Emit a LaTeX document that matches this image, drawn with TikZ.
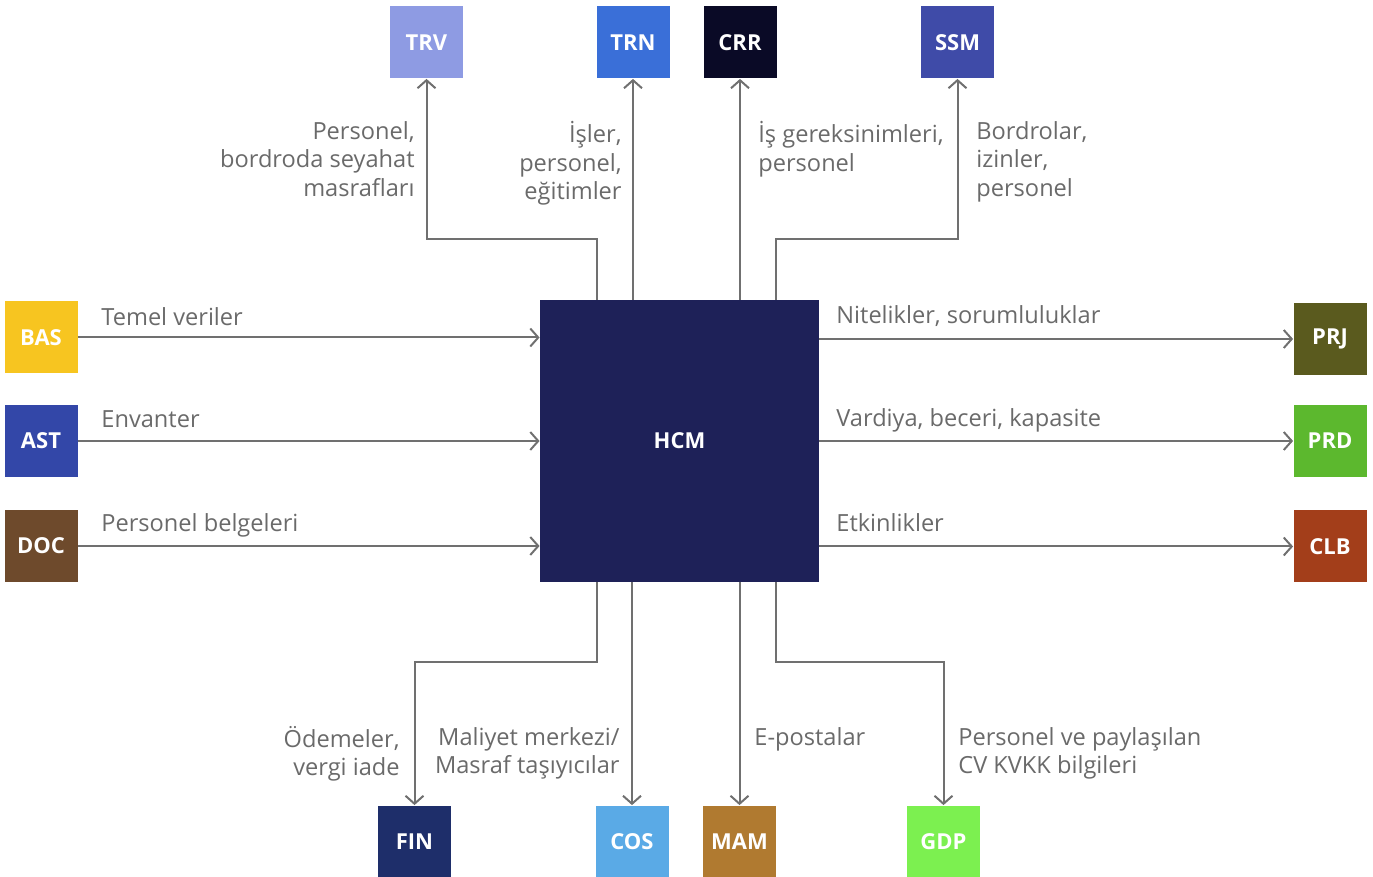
\documentclass[tikz,border=0pt]{standalone}
\usepackage{fontspec}
\setmainfont{Open Sans}
\usetikzlibrary{arrows.meta}

\definecolor{linegray}{HTML}{707070}
\definecolor{lblgray}{HTML}{6A6A6A}
\definecolor{hcmblue}{HTML}{1E2158}
\definecolor{trvcol}{HTML}{8E9BE3}
\definecolor{trncol}{HTML}{3A6FD8}
\definecolor{crrcol}{HTML}{0A0A26}
\definecolor{ssmcol}{HTML}{3F4BA8}
\definecolor{bascol}{HTML}{F7C520}
\definecolor{astcol}{HTML}{3347A8}
\definecolor{doccol}{HTML}{6E4A2C}
\definecolor{prjcol}{HTML}{5A5A1E}
\definecolor{prdcol}{HTML}{5CB82E}
\definecolor{clbcol}{HTML}{A33E1A}
\definecolor{fincol}{HTML}{1E2E6A}
\definecolor{coscol}{HTML}{5AAAE6}
\definecolor{mamcol}{HTML}{B07A30}
\definecolor{gdpcol}{HTML}{7CF050}

\tikzset{
  modbox/.style={fill=#1, minimum width=36.5pt, minimum height=36pt, inner sep=0pt,
    text=white, font=\fontsize{11}{13}\selectfont\bfseries},
  flow/.style={draw=linegray, line width=1pt, -{Straight Barb[length=4pt,width=9pt]}},
  lbl/.style={text=lblgray, inner sep=0pt, font=\fontsize{11.8}{14.25}\selectfont}
}

\begin{document}
\begin{tikzpicture}[x=0.5pt,y=-0.5pt]
\useasboundingbox (0,0) rectangle (1373,877);

% HCM in the middle
\node[fill=hcmblue, minimum width=139.5pt, minimum height=141pt, inner sep=0pt,
  text=white, font=\fontsize{11}{13}\selectfont\bfseries] (hcm) at (679.5,441) {HCM};

% top
\node[modbox=trvcol] (trv) at (426.5,42.5) {TRV};
\node[modbox=trncol] (trn) at (633,42.5) {TRN};
\node[modbox=crrcol] (crr) at (740,42.5) {CRR};
\node[modbox=ssmcol] (ssm) at (957.5,42.5) {SSM};
% left
\node[modbox=bascol] (bas) at (41,337.5) {BAS};
\node[modbox=astcol] (ast) at (41,441) {AST};
\node[modbox=doccol] (doc) at (41,546) {DOC};
% right
\node[modbox=prjcol] (prj) at (1330,339) {PRJ};
\node[modbox=prdcol] (prd) at (1330,441) {PRD};
\node[modbox=clbcol] (clb) at (1330,546.5) {CLB};
% bottom
\node[modbox=fincol] (fin) at (414.5,841.5) {FIN};
\node[modbox=coscol] (cos) at (632,841.5) {COS};
\node[modbox=mamcol] (mam) at (739.5,841.5) {MAM};
\node[modbox=gdpcol] (gdp) at (943.5,841.5) {GDP};

% connectors
\draw[flow] ([xshift=-41.25pt]hcm.north) -- ++(0,-61) -| (trv.south);
\draw[flow] (hcm.north -| trn.south) -- (trn.south);
\draw[flow] (hcm.north -| crr.south) -- (crr.south);
\draw[flow] ([xshift=48.25pt]hcm.north) -- ++(0,-61) -| (ssm.south);

\draw[flow] (bas.east) -- (bas.east -| hcm.west);
\draw[flow] (ast.east) -- (ast.east -| hcm.west);
\draw[flow] (doc.east) -- (doc.east -| hcm.west);

\draw[flow] (hcm.east |- prj.west) -- (prj.west);
\draw[flow] (hcm.east |- prd.west) -- (prd.west);
\draw[flow] (hcm.east |- clb.west) -- (clb.west);

\draw[flow] ([xshift=-41.25pt]hcm.south) -- ++(0,80) -| (fin.north);
\draw[flow] (hcm.south -| cos.north) -- (cos.north);
\draw[flow] (hcm.south -| mam.north) -- (mam.north);
\draw[flow] ([xshift=48.25pt]hcm.south) -- ++(0,80) -| (gdp.north);

% labels
\node[lbl, align=right, anchor=north east] (ltrv) at (415,121) {Personel,\\bordroda seyahat\\masrafları};
\node[lbl, align=right, anchor=north east] (ltrn) at (622,121) {İşler,\\personel,\\eğitimler};
\node[lbl, align=left, anchor=north west] (lcrr) at (758,121) {İş gereksinimleri,\\personel};
\node[lbl, align=left, anchor=north west] (lssm) at (976,121) {Bordrolar,\\izinler,\\personel};

\node[lbl, anchor=base west] (lbas) at (101,326) {Temel veriler};
\node[lbl, anchor=base west] (last) at (101,428) {Envanter};
\node[lbl, anchor=base west] (ldoc) at (101,532) {Personel belgeleri};

\node[lbl, anchor=base west] (lprj) at (836,324) {Nitelikler, sorumluluklar};
\node[lbl, anchor=base west] (lprd) at (836,427) {Vardiya, beceri, kapasite};
\node[lbl, anchor=base west] (lclb) at (836,531) {Etkinlikler};

\node[lbl, align=right, anchor=north east] (lfin) at (400,726) {Ödemeler,\\vergi iade};
\node[lbl, align=right, anchor=north east] (lcos) at (620,727) {Maliyet merkezi/\\Masraf taşıyıcılar};
\node[lbl, align=left, anchor=north west] (lmam) at (754,727) {E-postalar};
\node[lbl, align=left, anchor=north west] (lgdp) at (958,727) {Personel ve paylaşılan\\CV KVKK bilgileri};
\end{tikzpicture}
\end{document}
